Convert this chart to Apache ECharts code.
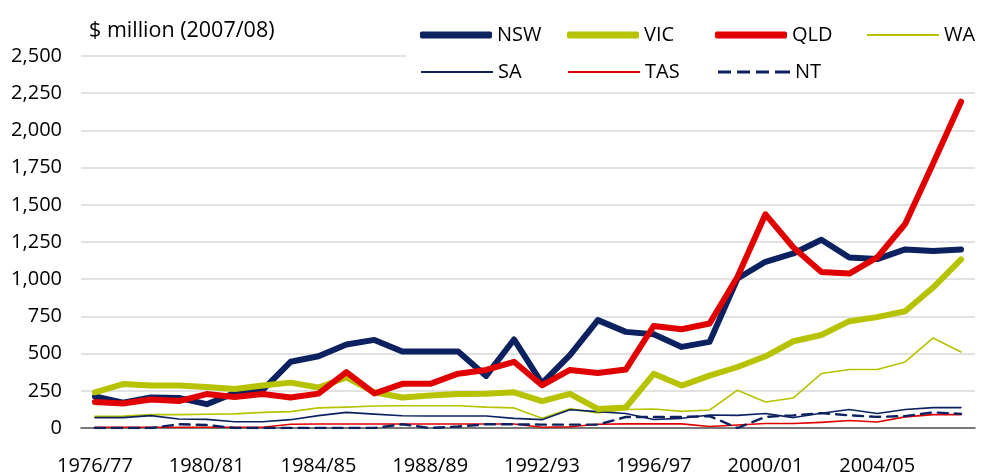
<!DOCTYPE html>
<html>
<head>
<meta charset="utf-8">
<script src="https://cdn.jsdelivr.net/npm/echarts@6/dist/echarts.min.js"></script>
<style>
  html, body { margin: 0; padding: 0; background: #fff; }
  #chart { width: 983px; height: 476px; }
</style>
</head>
<body>
<div id="chart"></div>
<script>
// financial years, 1976/77 .. 2007/08
const years = [
  '1976/77', '1977/78', '1978/79', '1979/80', '1980/81', '1981/82', '1982/83', '1983/84',
  '1984/85', '1985/86', '1986/87', '1987/88', '1988/89', '1989/90', '1990/91', '1991/92',
  '1992/93', '1993/94', '1994/95', '1995/96', '1996/97', '1997/98', '1998/99', '1999/00',
  '2000/01', '2001/02', '2002/03', '2003/04', '2004/05', '2005/06', '2006/07', '2007/08'
];

// $ million (2007/08)
const nsw = [212, 170, 205, 202, 160, 235, 255, 445, 482, 561, 592, 514, 514, 514, 350, 595,
             300, 489, 725, 646, 630, 545, 579, 1005, 1117, 1173, 1265, 1146, 1135, 1200, 1189, 1200];
const vic = [240, 295, 285, 285, 275, 262, 285, 305, 272, 340, 240, 205, 218, 228, 230, 240,
             180, 230, 128, 138, 364, 285, 352, 410, 482, 583, 625, 718, 745, 785, 944, 1133];
const qld = [175, 165, 192, 181, 228, 209, 228, 205, 231, 375, 232, 297, 297, 365, 390, 445,
             287, 390, 370, 393, 686, 664, 702, 1016, 1436, 1213, 1049, 1038, 1146, 1371, 1778, 2193];
const wa  = [79, 80, 90, 90, 92, 95, 105, 110, 135, 140, 148, 150, 150, 150, 140, 135,
             65, 130, 101, 124, 128, 112, 121, 254, 175, 202, 366, 393, 393, 444, 605, 511];
const sa  = [70, 70, 83, 60, 58, 42, 42, 56, 83, 105, 93, 82, 81, 81, 81, 65,
             56, 123, 110, 97, 57, 65, 87, 85, 97, 70, 99, 124, 98, 124, 137, 137];
const tas = [5, 5, 5, 5, 5, 5, 5, 25, 27, 27, 27, 27, 27, 27, 27, 27,
             5, 8, 25, 28, 28, 28, 10, 20, 30, 30, 38, 50, 40, 75, 90, 90];
const nt  = [0, 0, 0, 25, 20, 0, 0, 0, 0, 0, 0, 25, 0, 10, 25, 25,
             23, 23, 23, 74, 74, 74, 80, 0, 75, 85, 100, 85, 75, 80, 105, 95];

const yMin = 0, yMax = 2500, yStep = 250;

const NAVY = '#0b2160';
const GREEN = '#b7c300';
const RED = '#e00000';
const FONT = 'Open Sans';

const chart = echarts.init(document.getElementById('chart'));

function line(name, data, color, width, type) {
  return {
    name: name,
    type: 'line',
    data: data,
    symbol: 'none',
    animation: false,
    lineStyle: { color: color, width: width, type: type || 'solid', cap: 'round', join: 'round' },
    itemStyle: { color: color },
    z: width > 3 ? 4 : 3
  };
}

// legend icons drawn by hand: thick, thin and dashed strokes
const DASH_ICON = 'path://M0,0h13v3h-13z M19,0h13v3h-13z M38,0h13v3h-13z M57,0h15v3h-15z';

// one legend per entry so the columns line up like the original
const legendSpots = [
  ['NSW', NAVY, 'roundRect', 7, 420, 23],
  ['VIC', GREEN, 'roundRect', 7, 567, 23],
  ['QLD', RED, 'roundRect', 7, 715, 23],
  ['WA', GREEN, 'rect', 2, 867, 23],
  ['SA', NAVY, 'rect', 2, 421, 60],
  ['TAS', RED, 'rect', 2, 568, 60],
  ['NT', NAVY, DASH_ICON, 3, 718, 60]
];
const legends = legendSpots.map(([name, color, icon, h, left, top]) => ({
  data: [{ name: name, icon: icon, itemStyle: { color: color, borderWidth: 0 } }],
  left: left,
  top: top,
  padding: 0,
  itemWidth: 72,
  itemHeight: h,
  symbolKeepAspect: false,
  textStyle: { fontFamily: FONT, fontSize: 20, color: '#000', lineHeight: 24 },
  selectedMode: false
}));

const option = {
  backgroundColor: '#fff',
  animation: false,
  title: {
    text: '$ million (2007/08)',
    left: 89,
    top: 20,
    padding: 0,
    textStyle: { fontFamily: FONT, fontSize: 21.5, fontWeight: 'normal', color: '#000' }
  },
  legend: legends,
  graphic: [{
    type: 'rect',
    left: 406, top: 10,
    shape: { width: 577, height: 78 },
    style: { fill: '#fff' },
    z: 1
  }],
  grid: { left: 81, right: 8, top: 56, bottom: 48 },
  xAxis: [{
    type: 'category',
    data: years,
    boundaryGap: true,
    position: 'bottom',
    axisLine: { lineStyle: { color: '#555', width: 1.5 } },
    axisTick: { inside: true, length: 7, interval: 0, lineStyle: { color: '#555', width: 1 } },
    axisLabel: { interval: 3, margin: 28, fontFamily: FONT, fontSize: 20, color: '#000' },
    splitLine: { show: false }
  }, {
    type: 'category',
    data: years,
    boundaryGap: true,
    position: 'bottom',
    axisLine: { show: false },
    axisTick: { inside: true, length: 7, interval: 0, alignWithLabel: true, lineStyle: { color: '#555', width: 1 } },
    axisLabel: { show: false },
    splitLine: { show: false }
  }],
  yAxis: {
    type: 'value',
    min: yMin,
    max: yMax,
    interval: yStep,
    axisLine: { show: false },
    axisTick: { show: false },
    axisLabel: {
      margin: 19,
      fontFamily: FONT,
      fontSize: 20,
      color: '#000',
      formatter: v => v.toLocaleString('en-US')
    },
    splitLine: { lineStyle: { color: '#d9d9d9', width: 1.5 } }
  },
  series: [
    line('NSW', nsw, NAVY, 6),
    line('VIC', vic, GREEN, 6),
    line('QLD', qld, RED, 6),
    line('WA', wa, GREEN, 1.6),
    line('SA', sa, NAVY, 1.6),
    line('TAS', tas, RED, 1.6),
    line('NT', nt, NAVY, 2.4, [10, 7])
  ]
};

chart.setOption(option);
</script>
</body>
</html>
